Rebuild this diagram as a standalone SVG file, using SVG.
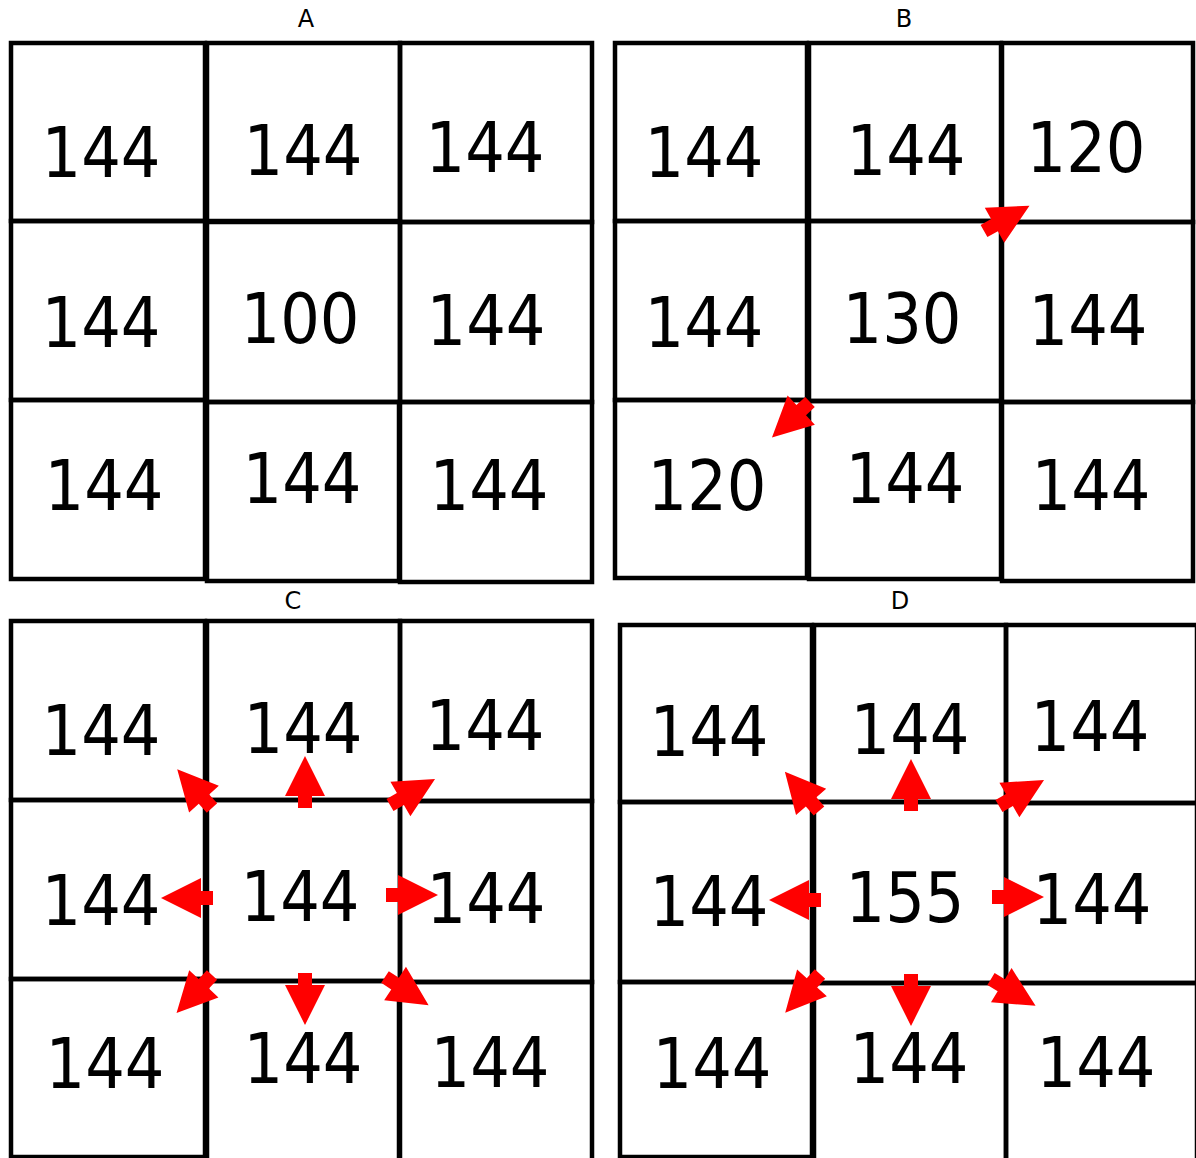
<svg xmlns="http://www.w3.org/2000/svg" xmlns:xlink="http://www.w3.org/1999/xlink" width="1196" height="1158" viewBox="0 0 1196 1158">
<style>
.cell{fill:none;stroke:#000;stroke-width:4.5;stroke-linejoin:miter}
.num{font-family:"DejaVu Sans","Liberation Sans",sans-serif;font-size:70px;fill:#000;text-anchor:middle}
.ttl{font-family:"DejaVu Sans","Liberation Sans",sans-serif;font-size:24px;fill:#000;text-anchor:middle}
.arr{fill:#ff0000}
</style>
<defs>
<polygon id="arrow" points="0,-7 12,-7 12,-20 52,0 12,20 12,7 0,7"/>
</defs>
<rect x="0" y="0" width="1196" height="1158" fill="#fff"/>

<text class="ttl" x="306" y="27">A</text>
<text class="ttl" x="904" y="27">B</text>
<text class="ttl" x="293" y="609">C</text>
<text class="ttl" x="900" y="609">D</text>

<!-- Panel A -->
<g id="panelA">
<g id="A-r1c1"><rect class="cell" x="11" y="43" width="194" height="178"/><text class="num" x="101" y="177" textLength="119" lengthAdjust="spacingAndGlyphs">144</text></g>
<g id="A-r1c2"><rect class="cell" x="207" y="43" width="193" height="178"/><text class="num" x="303" y="175" textLength="119" lengthAdjust="spacingAndGlyphs">144</text></g>
<g id="A-r1c3"><rect class="cell" x="400" y="43" width="192" height="179"/><text class="num" x="485" y="172" textLength="119" lengthAdjust="spacingAndGlyphs">144</text></g>
<g id="A-r2c1"><rect class="cell" x="11" y="221" width="194" height="179"/><text class="num" x="101" y="347" textLength="119" lengthAdjust="spacingAndGlyphs">144</text></g>
<g id="A-r2c2"><rect class="cell" x="207" y="222" width="193" height="180"/><text class="num" x="300" y="343" textLength="119" lengthAdjust="spacingAndGlyphs">100</text></g>
<g id="A-r2c3"><rect class="cell" x="400" y="222" width="192" height="180"/><text class="num" x="486" y="345" textLength="119" lengthAdjust="spacingAndGlyphs">144</text></g>
<g id="A-r3c1"><rect class="cell" x="11" y="400" width="194" height="179"/><text class="num" x="104" y="510" textLength="119" lengthAdjust="spacingAndGlyphs">144</text></g>
<g id="A-r3c2"><rect class="cell" x="207" y="402" width="192" height="179"/><text class="num" x="302" y="503" textLength="119" lengthAdjust="spacingAndGlyphs">144</text></g>
<g id="A-r3c3"><rect class="cell" x="400" y="402" width="192" height="180"/><text class="num" x="489" y="510" textLength="119" lengthAdjust="spacingAndGlyphs">144</text></g>
</g>

<!-- Panel B -->
<g id="panelB">
<g id="B-r1c1"><rect class="cell" x="615" y="43" width="192" height="178"/><text class="num" x="704" y="177" textLength="119" lengthAdjust="spacingAndGlyphs">144</text></g>
<g id="B-r1c2"><rect class="cell" x="809" y="43" width="192" height="178"/><text class="num" x="906" y="175" textLength="119" lengthAdjust="spacingAndGlyphs">144</text></g>
<g id="B-r1c3"><rect class="cell" x="1002" y="43" width="191" height="179"/><text class="num" x="1086" y="172" textLength="119" lengthAdjust="spacingAndGlyphs">120</text></g>
<g id="B-r2c1"><rect class="cell" x="615" y="221" width="192" height="179"/><text class="num" x="704" y="347" textLength="119" lengthAdjust="spacingAndGlyphs">144</text></g>
<g id="B-r2c2"><rect class="cell" x="809" y="221" width="192" height="180"/><text class="num" x="902" y="343" textLength="119" lengthAdjust="spacingAndGlyphs">130</text></g>
<g id="B-r2c3"><rect class="cell" x="1002" y="222" width="191" height="180"/><text class="num" x="1088" y="345" textLength="119" lengthAdjust="spacingAndGlyphs">144</text></g>
<g id="B-r3c1"><rect class="cell" x="615" y="400" width="192" height="178"/><text class="num" x="707" y="510" textLength="119" lengthAdjust="spacingAndGlyphs">120</text></g>
<g id="B-r3c2"><rect class="cell" x="809" y="401" width="192" height="178"/><text class="num" x="905" y="503" textLength="119" lengthAdjust="spacingAndGlyphs">144</text></g>
<g id="B-r3c3"><rect class="cell" x="1002" y="402" width="191" height="179"/><text class="num" x="1091" y="510" textLength="119" lengthAdjust="spacingAndGlyphs">144</text></g>
</g>

<!-- Panel C -->
<g id="panelC">
<g id="C-r1c1"><rect class="cell" x="11" y="621" width="194" height="179"/><text class="num" x="101" y="755" textLength="119" lengthAdjust="spacingAndGlyphs">144</text></g>
<g id="C-r1c2"><rect class="cell" x="207" y="621" width="193" height="179"/><text class="num" x="303" y="753" textLength="119" lengthAdjust="spacingAndGlyphs">144</text></g>
<g id="C-r1c3"><rect class="cell" x="400" y="621" width="192" height="180"/><text class="num" x="485" y="750" textLength="119" lengthAdjust="spacingAndGlyphs">144</text></g>
<g id="C-r2c1"><rect class="cell" x="11" y="800" width="194" height="179"/><text class="num" x="101" y="925" textLength="119" lengthAdjust="spacingAndGlyphs">144</text></g>
<g id="C-r2c2"><rect class="cell" x="207" y="800" width="193" height="181"/><text class="num" x="300" y="921" textLength="119" lengthAdjust="spacingAndGlyphs">144</text></g>
<g id="C-r2c3"><rect class="cell" x="400" y="801" width="192" height="181"/><text class="num" x="486" y="923" textLength="119" lengthAdjust="spacingAndGlyphs">144</text></g>
<g id="C-r3c1"><rect class="cell" x="11" y="979" width="194" height="178"/><text class="num" x="105" y="1088" textLength="119" lengthAdjust="spacingAndGlyphs">144</text></g>
<g id="C-r3c2"><rect class="cell" x="207" y="981" width="192" height="182"/><text class="num" x="303" y="1083" textLength="119" lengthAdjust="spacingAndGlyphs">144</text></g>
<g id="C-r3c3"><rect class="cell" x="400" y="982" width="192" height="181"/><text class="num" x="490" y="1087" textLength="119" lengthAdjust="spacingAndGlyphs">144</text></g>
</g>

<!-- Panel D -->
<g id="panelD">
<g id="D-r1c1"><rect class="cell" x="620" y="625" width="192" height="177"/><text class="num" x="709" y="756" textLength="119" lengthAdjust="spacingAndGlyphs">144</text></g>
<g id="D-r1c2"><rect class="cell" x="814" y="625" width="192" height="177"/><text class="num" x="910" y="754" textLength="119" lengthAdjust="spacingAndGlyphs">144</text></g>
<g id="D-r1c3"><rect class="cell" x="1006" y="625" width="191" height="178"/><text class="num" x="1090" y="751" textLength="119" lengthAdjust="spacingAndGlyphs">144</text></g>
<g id="D-r2c1"><rect class="cell" x="620" y="802" width="192" height="180"/><text class="num" x="709" y="926" textLength="119" lengthAdjust="spacingAndGlyphs">144</text></g>
<g id="D-r2c2"><rect class="cell" x="814" y="802" width="192" height="181"/><text class="num" x="905" y="922" textLength="119" lengthAdjust="spacingAndGlyphs">155</text></g>
<g id="D-r2c3"><rect class="cell" x="1006" y="803" width="191" height="180"/><text class="num" x="1092" y="924" textLength="119" lengthAdjust="spacingAndGlyphs">144</text></g>
<g id="D-r3c1"><rect class="cell" x="620" y="982" width="192" height="175"/><text class="num" x="712" y="1088" textLength="119" lengthAdjust="spacingAndGlyphs">144</text></g>
<g id="D-r3c2"><rect class="cell" x="814" y="983" width="192" height="180"/><text class="num" x="909" y="1083" textLength="119" lengthAdjust="spacingAndGlyphs">144</text></g>
<g id="D-r3c3"><rect class="cell" x="1006" y="983" width="191" height="180"/><text class="num" x="1096" y="1087" textLength="119" lengthAdjust="spacingAndGlyphs">144</text></g>
</g>

<!-- Connectors (arrows) -->
<g id="connectors" class="arr">
<use xlink:href="#arrow" href="#arrow" transform="translate(984,231) rotate(-29)"/>
<use xlink:href="#arrow" href="#arrow" transform="translate(810,402) rotate(137)"/>

<use xlink:href="#arrow" href="#arrow" transform="translate(305,808) rotate(-90)"/>
<use xlink:href="#arrow" href="#arrow" transform="translate(213,898) rotate(180)"/>
<use xlink:href="#arrow" href="#arrow" transform="translate(386,895)"/>
<use xlink:href="#arrow" href="#arrow" transform="translate(305,973) rotate(90)"/>
<use xlink:href="#arrow" href="#arrow" transform="translate(212,808) rotate(-132)"/>
<use xlink:href="#arrow" href="#arrow" transform="translate(390,805) rotate(-30)"/>
<use xlink:href="#arrow" href="#arrow" transform="translate(212,975) rotate(133)"/>
<use xlink:href="#arrow" href="#arrow" transform="translate(385,977) rotate(33)"/>

<use xlink:href="#arrow" href="#arrow" transform="translate(911,811) rotate(-90)"/>
<use xlink:href="#arrow" href="#arrow" transform="translate(821,900) rotate(180)"/>
<use xlink:href="#arrow" href="#arrow" transform="translate(992,897)"/>
<use xlink:href="#arrow" href="#arrow" transform="translate(911,974) rotate(90)"/>
<use xlink:href="#arrow" href="#arrow" transform="translate(819,811) rotate(-131)"/>
<use xlink:href="#arrow" href="#arrow" transform="translate(999,806) rotate(-30)"/>
<use xlink:href="#arrow" href="#arrow" transform="translate(820,974) rotate(132)"/>
<use xlink:href="#arrow" href="#arrow" transform="translate(991,979) rotate(31)"/>
</g>
</svg>
